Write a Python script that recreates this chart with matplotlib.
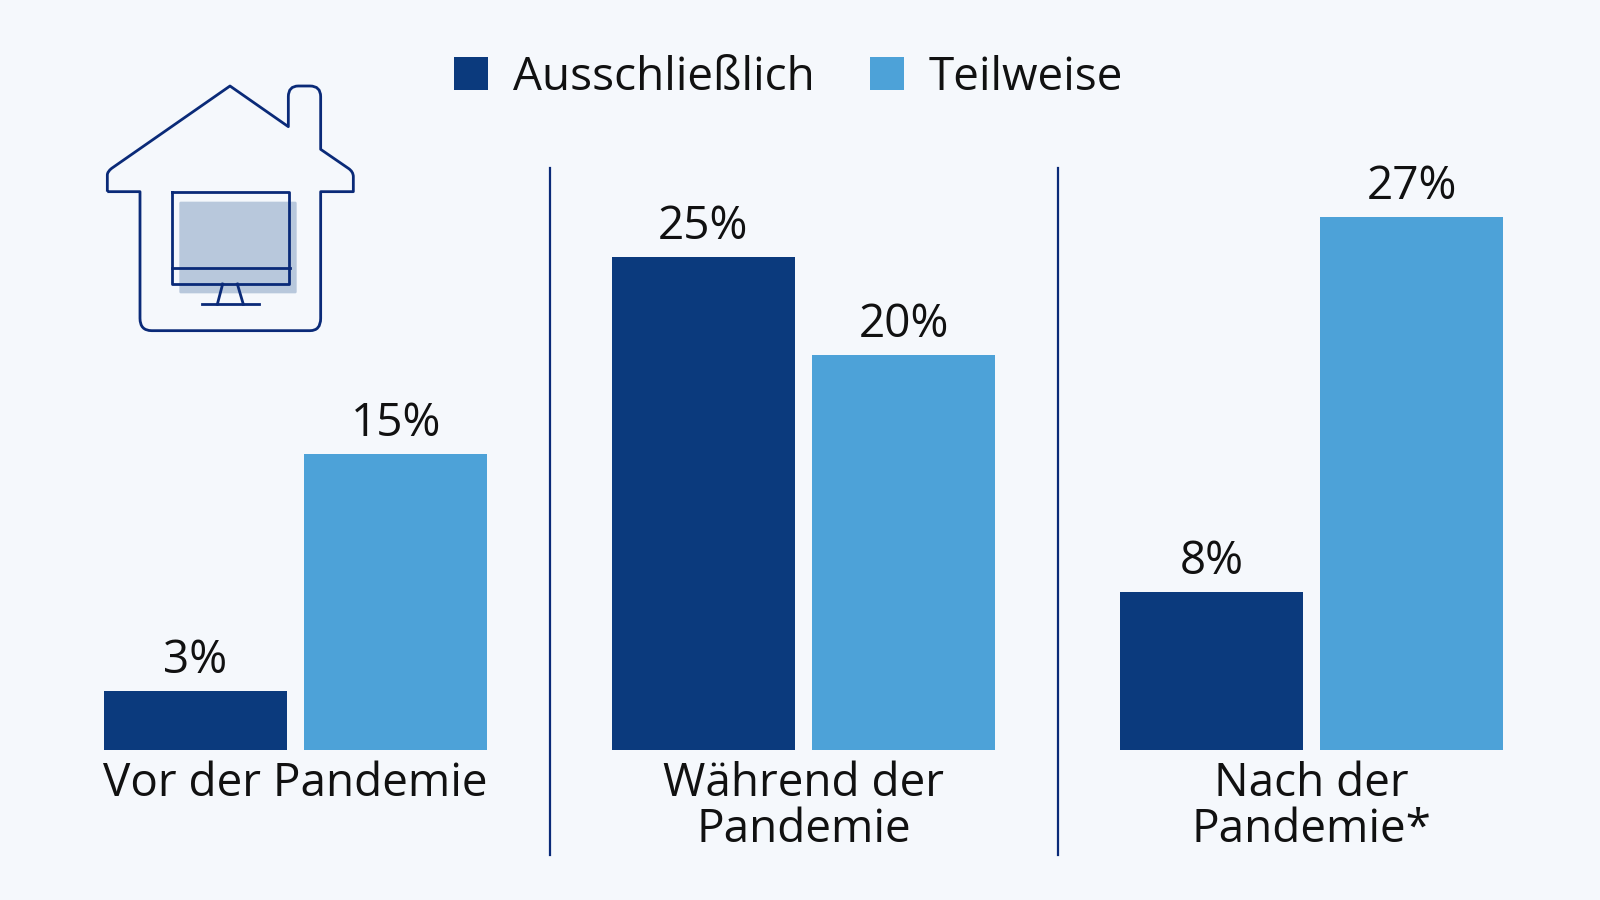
import matplotlib.pyplot as plt
from matplotlib.patches import PathPatch, FancyBboxPatch
from matplotlib.path import Path

plt.rcParams['font.family'] = ['Open Sans', 'DejaVu Sans']

periods = ['Vor der Pandemie', 'Während der\nPandemie', 'Nach der\nPandemie*']
ausschliesslich = [3, 25, 8]
teilweise = [15, 20, 27]
series_names = ['Ausschließlich', 'Teilweise']

bg = '#F5F8FC'
dark = '#0B3A7D'
light = '#4DA2D8'
stroke = '#0A2A78'

# pixel layout of the 1600x900 canvas
group_step = 508
first_center = 295.5
per_cent = 19.73
base_y = 750

fig = plt.figure(figsize=(16, 9), dpi=100, facecolor=bg)
ax = fig.add_axes([0, 0, 1, 1])
ax.set_xlim(-first_center / group_step, (1600 - first_center) / group_step)
ax.set_ylim(-(900 - base_y) / per_cent, base_y / per_cent)
ax.axis('off')

x = list(range(len(periods)))
b1 = ax.bar([i - 0.197 for i in x], ausschliesslich, width=0.36, color=dark, label=series_names[0])
b2 = ax.bar([i + 0.197 for i in x], teilweise, width=0.36, color=light, label=series_names[1])
for bars in (b1, b2):
    ax.bar_label(bars, fmt='%d%%', padding=5, fontsize=33, color='#111111')

for i, name in enumerate(periods):
    ax.annotate(name, (i, 0), xytext=(0, -8), textcoords='offset points', ha='center', va='top',
                fontsize=33, color='#111111', linespacing=1.0)

for sep in (0.5, 1.5):
    ax.axvline(sep, ymin=(900 - 855) / 900, ymax=(900 - 168) / 900, color=stroke, lw=1.6)

leg = ax.legend(loc='upper center', bbox_to_anchor=(0.493, 0.985), ncol=2, frameon=False, fontsize=33,
                handlelength=0.74, handleheight=0.74, handletextpad=0.55, columnspacing=1.2,
                labelcolor='#111111')

# house icon, drawn in canvas pixels
icon = fig.add_axes([0, 0, 1, 1])
icon.set_xlim(0, 1600)
icon.set_ylim(900, 0)
icon.axis('off')
icon.patch.set_alpha(0)


def px(zx, zy):
    return 80 + zx / 3, 70 + zy / 3


verts = [px(82, 365), px(82, 315), px(82, 305), px(95, 295), px(450, 48), px(625, 170), px(625, 80),
         px(625, 48), px(655, 48), px(690, 48), px(722, 48), px(722, 80), px(722, 238), px(805, 295),
         px(820, 305), px(820, 320), px(820, 365), px(722, 365), px(722, 745), px(722, 782), px(690, 782),
         px(215, 782), px(180, 782), px(180, 745), px(180, 365), px(82, 365)]
L, C = Path.LINETO, Path.CURVE3
codes = [Path.MOVETO, L, C, C, L, L, L, C, C, L, C, C, L, L, C, C, L, L, L, C, C, L, C, C, L, L]
icon.add_patch(PathPatch(Path(verts, codes), fill=False, ec=stroke, lw=2, joinstyle='round'))

sx0, sy0 = px(298, 395)
sx1, sy1 = px(650, 670)
icon.add_patch(FancyBboxPatch((sx0, sy0), sx1 - sx0, sy1 - sy0, boxstyle='round,pad=0,rounding_size=1.5',
                              fc='#B8C8DC', ec='none'))

mx0, my0 = px(275, 365)
mx1, my1 = px(628, 642)
icon.plot([mx0, mx1, mx1, mx0, mx0], [my0, my0, my1, my1, my0], color=stroke, lw=2, solid_joinstyle='round')
for seg in [((275, 595), (630, 595)), ((428, 642), (412, 703)), ((472, 642), (490, 703)), ((365, 703), (538, 703))]:
    p0, p1 = px(*seg[0]), px(*seg[1])
    icon.plot([p0[0], p1[0]], [p0[1], p1[1]], color=stroke, lw=2)

fig.savefig('out.png', dpi=100, facecolor=bg)
